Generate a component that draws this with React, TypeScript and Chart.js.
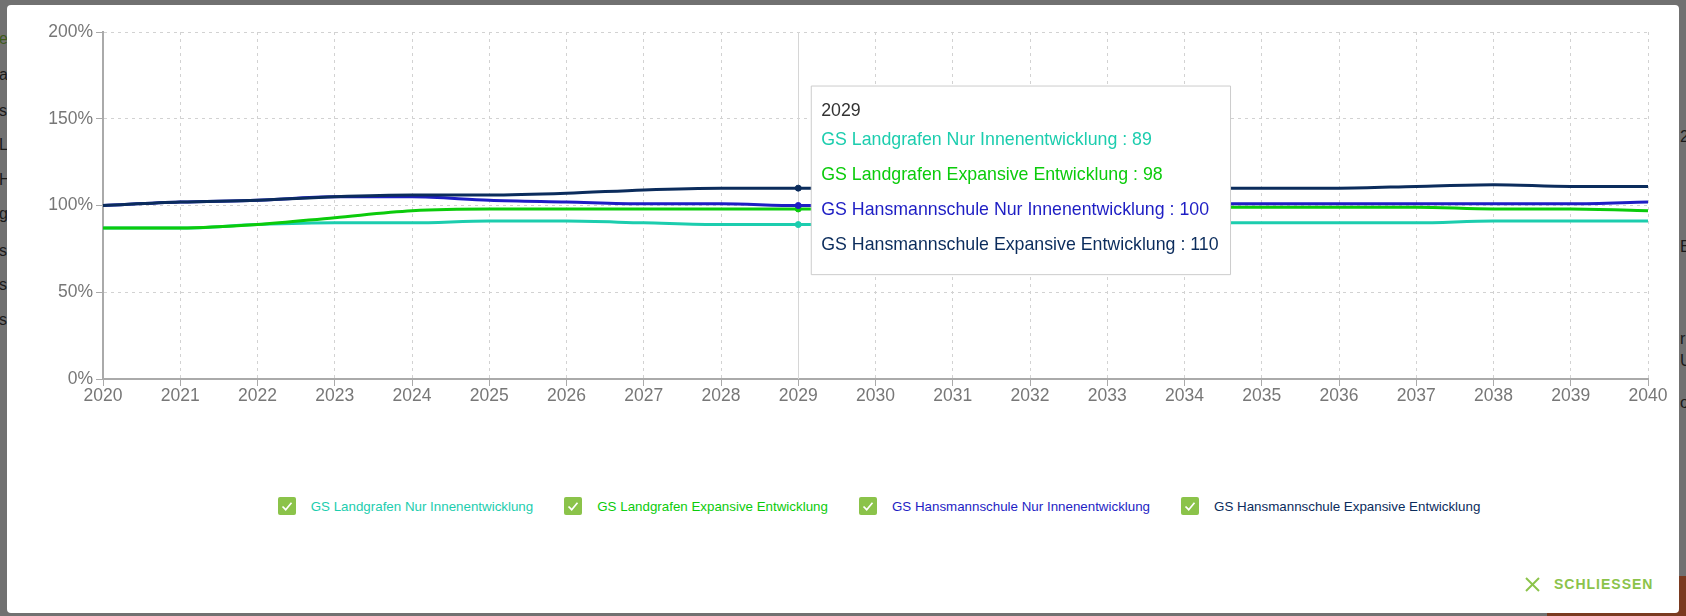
import React, { useEffect, useRef } from 'react';
import { Chart, registerables, Tooltip } from 'chart.js';

Chart.register(...registerables);

const years = ['2020','2021','2022','2023','2024','2025','2026','2027','2028','2029','2030','2031','2032','2033','2034','2035','2036','2037','2038','2039','2040'];
const yMin = 0;
const yMax = 200;
const yStep = 50;

const seriesNames = [
  'GS Landgrafen Nur Innenentwicklung',
  'GS Landgrafen Expansive Entwicklung',
  'GS Hansmannschule Nur Innenentwicklung',
  'GS Hansmannschule Expansive Entwicklung',
];
const seriesColors = ['#1ccdae', '#0bcb0b', '#1e1ec4', '#0b2c5c'];

const landgrafenNur = [87, 87, 89, 90, 90, 91, 91, 90, 89, 89, 90, 90, 90, 90, 90, 90, 90, 90, 91, 91, 91];
const landgrafenExpansiv = [87, 87, 89, 93, 97, 98, 98, 98, 98, 98, 98, 98, 99, 99, 99, 99, 99, 99, 98, 98, 97];
const hansmannNur = [100, 102, 103, 105, 105, 103, 102, 101, 101, 100, 100, 100, 101, 101, 101, 101, 101, 101, 101, 101, 102];
const hansmannExpansiv = [100, 102, 103, 105, 106, 106, 107, 109, 110, 110, 110, 110, 110, 110, 110, 110, 110, 111, 112, 111, 111];

const seriesValues = [landgrafenNur, landgrafenExpansiv, hansmannNur, hansmannExpansiv];
const hoverYear = '2029';
const tooltipAnchorValue = 114.5;

const FONT = '"Liberation Sans", Arial, Helvetica, sans-serif';
const GREEN = '#8bc34a';

(Tooltip.positioners as any).besidePoint = function (elements: any[], eventPosition: any) {
  if (!elements.length) return false;
  return { x: elements[0].element.x, y: eventPosition.y };
};

const crosshairPlugin = {
  id: 'crosshair',
  beforeDatasetsDraw(chart: any) {
    const active = chart.getActiveElements();
    if (!active.length) return;
    const x = active[0].element.x;
    const { top, bottom } = chart.chartArea;
    const ctx = chart.ctx;
    ctx.save();
    ctx.strokeStyle = '#d6d6d6';
    ctx.lineWidth = 1;
    ctx.beginPath();
    ctx.moveTo(Math.round(x) + 0.5, top);
    ctx.lineTo(Math.round(x) + 0.5, bottom);
    ctx.stroke();
    ctx.restore();
  },
};

function Check() {
  return (
    <span style={{ display: 'inline-block', width: 18, height: 18, borderRadius: 2, background: GREEN, position: 'relative', flex: '0 0 auto' }}>
      <svg width="18" height="18" viewBox="0 0 18 18" style={{ position: 'absolute', left: 0, top: 0 }}>
        <polyline points="4.5,9.5 7.7,12.7 13.5,5.8" fill="none" stroke="#fff" strokeWidth="1.7" />
      </svg>
    </span>
  );
}

const leftFrags = [
  { t: 'e', y: 30, c: '#3d5a1a' }, { t: 'a', y: 66, c: '#1a1a1a' }, { t: 's', y: 102, c: '#1a1a1a' },
  { t: 'L', y: 136, c: '#1a1a1a' }, { t: 'H', y: 171, c: '#1a1a1a' }, { t: 'g', y: 205, c: '#1a1a1a' },
  { t: 's', y: 242, c: '#1a1a1a' }, { t: 's', y: 276, c: '#1a1a1a' }, { t: 's', y: 311, c: '#1a1a1a' },
];
const rightFrags = [
  { t: '2', y: 128 }, { t: 'E', y: 238 }, { t: 'r', y: 330 }, { t: 'U', y: 352 }, { t: 'o', y: 394 },
];

export default function App() {
  const canvasRef = useRef<HTMLCanvasElement | null>(null);

  useEffect(() => {
    document.body.style.margin = '0';
    const canvas = canvasRef.current;
    if (!canvas) return;
    const chart = new Chart(canvas, {
      type: 'line',
      data: {
        labels: years,
        datasets: seriesValues.map((vals, i) => ({
          label: seriesNames[i],
          data: vals,
          order: seriesValues.length - i,
          borderColor: seriesColors[i],
          backgroundColor: seriesColors[i],
          borderWidth: 3,
          pointRadius: 0,
          pointHoverRadius: 3,
          pointHoverBorderWidth: 1,
          pointBackgroundColor: seriesColors[i],
          pointBorderColor: seriesColors[i],
          pointHoverBackgroundColor: seriesColors[i],
          pointHoverBorderColor: seriesColors[i],
          cubicInterpolationMode: 'monotone' as const,
          fill: false,
        })),
      },
      options: {
        responsive: false,
        animation: false,
        events: [],
        layout: { padding: { left: 0, top: 27, right: 31, bottom: 6 } },
        interaction: { mode: 'index', intersect: false },
        plugins: {
          legend: { display: false },
          title: { display: false },
          tooltip: {
            enabled: true,
            position: 'besidePoint' as any,
            xAlign: 'left',
            yAlign: 'center',
            caretSize: 0,
            caretPadding: 13,
            backgroundColor: '#ffffff',
            borderColor: '#cccccc',
            borderWidth: 1,
            cornerRadius: 0,
            displayColors: false,
            padding: { top: 14, bottom: 19, left: 10, right: 12 },
            titleColor: '#333333',
            titleFont: { family: FONT, size: 17.75, weight: 'normal' as any, lineHeight: 1.2 },
            titleMarginBottom: 8.6,
            bodyFont: { family: FONT, size: 17.75, lineHeight: 1.2 },
            bodySpacing: 13.5,
            itemSort: (a: any, b: any) => a.datasetIndex - b.datasetIndex,
            callbacks: {
              label: (item: any) => `${item.dataset.label} : ${item.raw}`,
              labelTextColor: (item: any) => seriesColors[item.datasetIndex],
            },
          },
        },
        scales: {
          x: {
            type: 'category',
            offset: false,
            grid: { color: '#d2d2d2', lineWidth: 1, drawTicks: true, tickLength: 7, tickColor: '#aaaaaa', offset: false },
            border: { display: true, color: '#aaaaaa', width: 2, dash: [3, 4] },
            ticks: { color: '#777777', font: { family: FONT, size: 17.5 }, padding: 0, maxRotation: 0, autoSkip: false },
            afterFit: (s: any) => { s.height = 40; },
          },
          y: {
            min: yMin,
            max: yMax,
            grid: { color: '#d2d2d2', lineWidth: 1, drawTicks: true, tickLength: 7, tickColor: '#aaaaaa' },
            border: { display: true, color: '#aaaaaa', width: 2, dash: [3, 4] },
            ticks: { stepSize: yStep, color: '#777777', font: { family: FONT, size: 17.5 }, padding: 3, callback: (v: any) => `${v}%` },
            afterFit: (s: any) => { s.width = 96; },
          },
        },
      } as any,
      plugins: [crosshairPlugin],
    });

    const idx = years.indexOf(hoverYear);
    const active = seriesValues.map((_, i) => ({ datasetIndex: i, index: idx }));
    const xPix = (chart.scales as any).x.getPixelForValue(idx);
    const yPix = (chart.scales as any).y.getPixelForValue(tooltipAnchorValue);
    chart.setActiveElements(active);
    chart.tooltip!.setActiveElements(active, { x: xPix, y: yPix });
    chart.update();

    return () => chart.destroy();
  }, []);

  return (
    <div style={{ position: 'fixed', left: 0, top: 0, width: 1686, height: 616, background: '#717171', overflow: 'hidden', fontFamily: FONT }}>
      {leftFrags.map((f, i) => (
        <span key={'l' + i} style={{ position: 'absolute', left: -1, top: f.y, fontSize: 16, color: f.c, lineHeight: '18px' }}>{f.t}</span>
      ))}
      {rightFrags.map((f, i) => (
        <span key={'r' + i} style={{ position: 'absolute', left: 1680, top: f.y, fontSize: 16, color: '#1a1a1a', lineHeight: '18px' }}>{f.t}</span>
      ))}
      <div style={{ position: 'absolute', left: 1547, top: 576, width: 139, height: 40, background: '#7a3a20' }} />
      <div style={{ position: 'absolute', left: 7, top: 5, width: 1672, height: 608, background: '#ffffff', borderRadius: 4 }}>
        <canvas ref={canvasRef} width={1672} height={420} style={{ position: 'absolute', left: 0, top: 0, width: 1672, height: 420 }} />
        <div style={{ position: 'absolute', left: 96, top: 491, width: 1552, height: 20, display: 'flex', justifyContent: 'center', alignItems: 'center' }}>
          {seriesNames.map((name, i) => (
            <div key={name} style={{ display: 'flex', alignItems: 'center', marginLeft: i === 0 ? 0 : 31 }}>
              <Check />
              <span style={{ marginLeft: 15, fontSize: 13.35, color: seriesColors[i], whiteSpace: 'nowrap' }}>{name}</span>
            </div>
          ))}
        </div>
        <div style={{ position: 'absolute', left: 1518, top: 571, display: 'flex', alignItems: 'center', height: 16 }}>
          <svg width="15" height="15" viewBox="0 0 15 15">
            <line x1="1" y1="1" x2="14" y2="14" stroke={GREEN} strokeWidth="2" />
            <line x1="14" y1="1" x2="1" y2="14" stroke={GREEN} strokeWidth="2" />
          </svg>
          <span style={{ marginLeft: 14, fontSize: 14, fontWeight: 'bold', letterSpacing: 1, color: GREEN }}>SCHLIESSEN</span>
        </div>
      </div>
    </div>
  );
}
